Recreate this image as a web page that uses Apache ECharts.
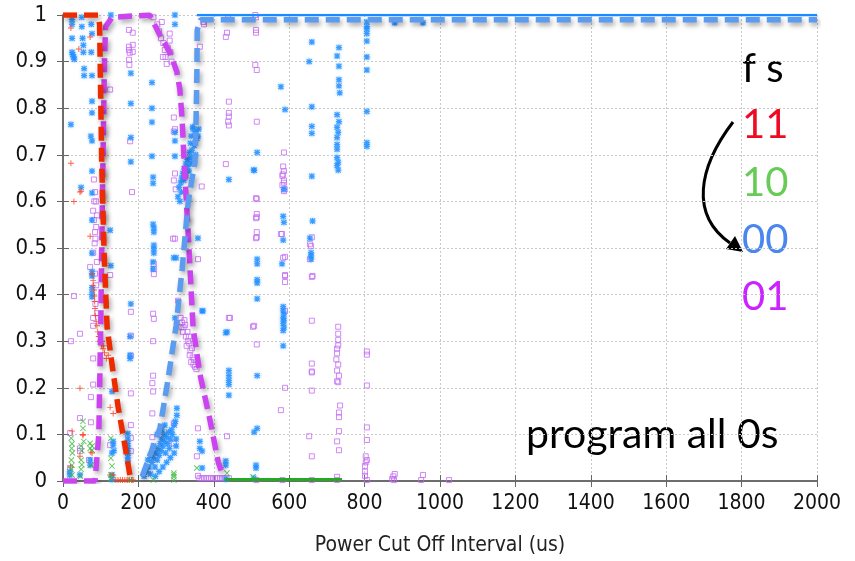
<!DOCTYPE html>
<html>
<head>
<meta charset="utf-8">
<title>Power Cut Off Interval</title>
<script src="https://cdn.jsdelivr.net/npm/echarts@6/dist/echarts.min.js"></script>
<style>
  html, body { margin: 0; padding: 0; background: #fff; }
  #chart { width: 855px; height: 561px; }
</style>
</head>
<body>
<div id="chart"></div>
<script>
  // tick labels
  const xTicks = [0, 200, 400, 600, 800, 1000, 1200, 1400, 1600, 1800, 2000]
  const yTicks = [0, 0.1, 0.2, 0.3, 0.4, 0.5, 0.6, 0.7, 0.8, 0.9, 1]

  // "00" samples (blue asterisks)
  const blue00 = [
    [24,0.99],[24,0.98],[24,0.95],[24,0.92],[26,0.915],[28,0.91],[30,0.905],
    [50,0.995],[50,0.975],[52,0.95],[54,0.935],[54,0.92],[56,0.885],[56,0.87],
    [75,0.98],[77,0.96],[75,0.92],[77,0.87],[77,0.815],[77,0.79],[74,0.74],[77,0.73],
    [21,0.765],[127,1.0],[180,0.875],[180,0.81],[180,0.737],[180,0.685],
    [236,0.855],[236,0.8],[236,0.77],[236,0.697],
    [297,1.0],[297,0.98],[297,0.748],[297,0.73],[297,0.697],
    [345,0.755],[350,0.745],[340,0.74],[355,0.735],[338,0.725],[348,0.72],[342,0.71],[336,0.705],
    [352,0.7],[340,0.695],[333,0.69],[345,0.685],[338,0.68],[330,0.675],[322,0.67],[318,0.66],
    [326,0.655],[315,0.65],[320,0.645],[312,0.64],[308,0.63],[314,0.62],[305,0.61],[310,0.6],
    [358,0.74],[352,0.75],[344,0.76],[330,0.69],[326,0.68],[334,0.665],[360,0.755],
    [48,0.63],[77,0.665],[77,0.618],[77,0.56],[125,0.538],[77,0.489],[127,0.462],[77,0.449],
    [77,0.44],[77,0.415],[77,0.404],[77,0.395],
    [239,0.652],[239,0.639],[239,0.551],[241,0.543],[241,0.534],[241,0.506],[241,0.498],
    [241,0.489],[239,0.47],[239,0.455],[180,0.38],[300,0.479],[358,0.521],[371,0.365],[297,0.35],
    [178,0.31],[178,0.27],[178,0.263],[130,0.192],
    [172,0.102],[172,0.09],[172,0.08],[172,0.07],[172,0.06],[172,0.05],[172,0.043],
    [133,0.085],[133,0.077],[130,0.06],[135,0.065],[130,0.013],[130,0.003],
    [18,0.02],[18,0.013],[45,0.013],[72,0.045],[72,0.034],
    [215,0.01],[222,0.02],[228,0.03],[232,0.015],[236,0.04],[240,0.05],[244,0.03],[246,0.06],
    [250,0.045],[252,0.07],[255,0.055],[258,0.08],[260,0.065],[262,0.09],[265,0.075],[268,0.1],
    [270,0.085],[272,0.06],[275,0.095],[278,0.08],[280,0.105],[282,0.07],[285,0.09],[288,0.11],
    [290,0.1],[295,0.12],[298,0.128],[300,0.09],[302,0.141],[302,0.156],[300,0.075],[295,0.06],
    [285,0.05],[275,0.04],[265,0.03],[255,0.02],[245,0.01],[240,0.075],[250,0.1],[232,0.055],
    [225,0.045],[262,0.11],[270,0.12],
    [294,0.479],[369,0.365],[435,0.32],[440,0.237],[440,0.226],[440,0.216],[440,0.207],[440,0.184],
    [515,0.476],[515,0.466],[515,0.432],[515,0.425],[515,0.391],[515,0.226],[515,0.113],[507,0.105],
    [512,0.034],[512,0.028],[506,0.006],
    [581,0.466],[584,0.374],[584,0.365],[586,0.358],[584,0.35],[586,0.345],[584,0.338],[586,0.33],
    [584,0.323],[584,0.29],
    [432,0.318],[369,0.064],[432,0.043],[432,0.034],[432,0.004],[369,0.028],[363,0.07],[363,0.085],
    [440,0.647],[507,0.667],[586,0.626],[584,0.568],[586,0.555],[584,0.517],
    [660,0.654],[662,0.558],[655,0.521],[658,0.49],[658,0.483],[658,0.476],[730,0.667],
    [660,0.942],[732,0.93],[727,0.912],[653,0.9],[732,0.89],[732,0.861],[732,0.848],[734,0.833],
    [578,0.846],[589,0.797],[660,0.803],[727,0.786],[732,0.771],[727,0.759],[730,0.748],[727,0.737],
    [660,0.761],[660,0.746],[727,0.722],[727,0.712],[727,0.694],[730,0.684],[727,0.677],
    [515,0.705],[506,0.667],
    [806,0.985],[806,0.975],[806,0.97],[806,0.96],[806,0.944],[806,0.91],[806,0.882],[806,0.793],
    [806,0.726],[806,0.718],[880,0.983],[955,0.983]
  ]

  // "01" samples (purple squares)
  const purple01 = [
    [72,0.459],[29,0.397],[21,0.3],[45,0.316],[80,0.333],[80,0.263],[80,0.207],[74,0.18],
    [45,0.135],[45,0.07],[45,0.064],[74,0.126],[69,0.045],[19,0.103],[19,0.028],
    [82,0.647],[85,0.62],[83,0.6],[80,0.58],[82,0.56],[85,0.534],[84,0.51],[80,0.49],
    [88,0.6],[90,0.57],[88,0.545],[86,0.52],[90,0.47],[85,0.445],[88,0.42],[86,0.38],[90,0.36],[80,0.35],
    [125,0.84],[178,0.729],[183,0.62],
    [175,0.968],[175,0.932],[175,0.925],[177,0.919],[175,0.904],[176,0.893],[185,0.962],[185,0.936],[185,0.921],
    [250,0.98],[255,0.965],[260,0.95],[266,0.94],[270,0.925],[272,0.91],[265,0.91],[275,0.895],
    [283,0.96],[283,0.945],[285,0.92],[278,0.93],[288,0.9],[262,0.985],[240,0.995],
    [294,0.78],[297,0.755],[294,0.75],[297,0.66],[294,0.645],[299,0.626],[297,0.52],[292,0.52],
    [363,0.932],[372,0.985],[374,0.98],[435,0.962],[432,0.953],[440,0.814],[440,0.79],[440,0.782],
    [438,0.771],[440,0.763],[432,0.68],[438,0.993],
    [514,0.771],[512,0.995],[512,0.968],[512,0.962],[510,0.893],[514,0.882],
    [586,0.705],[584,0.675],[586,0.665],[582,0.655],[586,0.645],[582,0.635],[588,0.626],
    [514,0.605],[514,0.573],[514,0.566],[514,0.534],[514,0.523],[578,0.53],
    [125,0.442],[125,0.077],[180,0.363],[180,0.312],[180,0.269],[180,0.188],[180,0.12],[180,0.092],[180,0.064],
    [241,0.466],[241,0.455],[241,0.444],[239,0.359],[241,0.348],[239,0.3],[239,0.226],[237,0.21],
    [239,0.192],[237,0.145],[237,0.094],
    [305,0.387],[294,0.124],[294,0.081],[358,0.476],[358,0.113],[355,0.053],[358,0.011],
    [312,0.35],[316,0.34],[320,0.33],[318,0.32],[324,0.335],[326,0.31],[330,0.32],[332,0.3],
    [328,0.29],[335,0.295],[338,0.28],[336,0.27],[342,0.285],[344,0.265],[340,0.255],[348,0.26],
    [350,0.245],[346,0.25],[354,0.24],[322,0.345],[314,0.33],[334,0.31],
    [443,0.35],[435,0.096],[504,0.331],[514,0.293],[589,0.44],[589,0.427],[589,0.2],[578,0.152],
    [589,0.481],[589,0.365],
    [660,0.438],[660,0.344],[660,0.252],[660,0.235],[660,0.233],[660,0.194],[653,0.096],[660,0.053],[660,0.002],
    [730,0.331],[730,0.316],[730,0.303],[730,0.291],[727,0.284],[727,0.274],[725,0.261],[730,0.25],
    [727,0.237],[732,0.226],[727,0.214],[730,0.212],[735,0.162],[732,0.147],[732,0.137],[732,0.107],
    [727,0.085],[732,0.066],[727,0.009],
    [806,0.278],[806,0.271],[806,0.205],[806,0.115],[806,0.088],[803,0.053],[806,0.045],[803,0.04],
    [801,0.032],[801,0.02],[801,0.011],
    [880,0.015],[876,0.01],[873,0.004],[955,0.013],[950,0.002],[1024,0.002],
    [368,0.632],[512,0.607],[512,0.564],[512,0.521],[581,0.53],[583,0.658],[586,0.64],[586,0.622],
    [584,0.479],[589,0.442],[440,0.35],[507,0.333],[660,0.523],[655,0.508],[655,0.476],[662,0.44],[658,0.504],
    [510,1.0],[513,0.002],[582,0.002],[727,0.002],[806,0.002],[878,0.002],
    [362,0.006],[368,0.006],[374,0.006],[380,0.006],[386,0.006],[392,0.006],[398,0.006],[404,0.006],
    [410,0.006],[416,0.006],[422,0.006],[428,0.006],[434,0.006],[440,0.006]
  ]

  // "11" samples (red pluses)
  const red11 = [
    [21,0.972],[42,0.927],[72,0.953],[21,0.682],[45,0.62],[29,0.6],[72,0.525],[48,0.622],
    [77,0.444],[80,0.43],[80,0.419],[82,0.41],[83,0.397],[84,0.385],[85,0.37],[86,0.355],
    [88,0.342],[90,0.333],[92,0.32],[95,0.31],[98,0.3],[102,0.29],[106,0.284],[110,0.275],
    [115,0.263],[120,0.27],[104,0.3],[108,0.29],
    [45,0.199],[53,0.098],[77,0.06],[24,0.107],[45,0.053],[125,0.158],[133,0.145],[133,0.013],
    [53,0.1],[74,0.062],[125,0.013],[20,0.03],
    [140,0.002],[146,0.002],[152,0.002],[158,0.002],[164,0.002],[170,0.002],[176,0.002],[182,0.002],[186,0.002]
  ]

  // "10" samples (green crosses)
  const green10 = [
    [22,0.092],[24,0.08],[23,0.07],[25,0.06],[22,0.045],[24,0.034],[21,0.025],[24,0.013],
    [53,0.128],[53,0.113],[55,0.085],[48,0.075],[50,0.065],[48,0.045],[50,0.035],[48,0.025],[46,0.01],
    [77,0.075],[77,0.066],[75,0.034],[72,0.081],[72,0.07],
    [127,0.092],[127,0.049],[127,0.013],[127,0.005],[130,0.032],
    [178,0.002],[240,0.002],[294,0.013],[294,0.002],[294,0.017],[294,0.009],[355,0.028],[435,0.017],[504,0.009]
  ]
  const green10Floor = [[430,0.003],[740,0.003]]
  const blue00Top = [[355,1],[2000,1]]

  // hand drawn trend lines
  const trend11 = [[0,1],[93,1],[97,0.98],[103,0.67],[109,0.49],[117,0.33],[130,0.25],[146,0.16],[164,0.077],[178,0.01]]
  const trend01 = [[0,0],[85,0],[95,0.1],[100,0.33],[105,0.64],[110,0.9],[113,0.975],[130,0.995],[230,1],
    [257,0.957],[284,0.919],[302,0.878],[310,0.84],[316,0.776],[321,0.69],[330,0.56],[337,0.455],
    [345,0.33],[363,0.23],[390,0.13],[412,0.04],[425,0.01]]
  const trend00 = [[210,0.01],[231,0.056],[257,0.113],[279,0.22],[300,0.333],[316,0.455],[324,0.526],
    [332,0.598],[342,0.647],[350,0.684],[353,0.776],[355,0.868],[356,0.968],[365,0.99],[2000,0.99]]

  const ASTERISK = 'path://M4,0H6V10H4Z M0,4H10V6H0Z M1.5,0.1L9.9,8.5L8.5,9.9L0.1,1.5Z M8.5,0.1L9.9,1.5L1.5,9.9L0.1,8.5Z'
  const PLUS = 'path://M4.2,0H5.8V10H4.2Z M0,4.2H10V5.8H0Z'
  const CROSS = 'path://M1.2,0.1L9.9,8.8L8.8,9.9L0.1,1.2Z M8.8,0.1L9.9,1.2L1.2,9.9L0.1,8.8Z'

  const AXIS_FONT = '"DejaVu Sans Condensed", "DejaVu Sans", sans-serif'
  const NOTE_FONT = 'Lato, "Open Sans", sans-serif'

  const dashed = (data, color) => ({
    type: 'line',
    data,
    symbol: 'none',
    silent: true,
    z: 5,
    lineStyle: {
      color,
      width: 5.5,
      type: [14, 7],
      shadowBlur: 5,
      shadowColor: 'rgba(0,0,0,0.35)',
      shadowOffsetX: 2,
      shadowOffsetY: 3
    }
  })

  const note = (text, top, color, size) => ({
    type: 'text',
    left: 742,
    top,
    style: { text, fill: color, font: `${size}px ${NOTE_FONT}` }
  })

  const chart = echarts.init(document.getElementById('chart'))
  chart.setOption({
    animation: false,
    backgroundColor: '#fff',
    grid: { left: 63, right: 38, top: 15, bottom: 78 },
    xAxis: [{
      type: 'value',
      min: xTicks[0],
      max: xTicks[xTicks.length - 1],
      interval: xTicks[1] - xTicks[0],
      name: 'Power Cut Off Interval (us)',
      nameLocation: 'middle',
      nameGap: 54,
      nameTextStyle: { fontSize: 21, color: '#222', fontFamily: AXIS_FONT },
      axisLine: { lineStyle: { color: '#666', width: 1.5 } },
      axisTick: { inside: true, length: 6, lineStyle: { color: '#666' } },
      axisLabel: { fontSize: 21, color: '#111', fontFamily: AXIS_FONT, margin: 12, formatter: v => String(v) },
      splitLine: { lineStyle: { color: '#c8c8c8', type: [2, 2] } }
    }, {
      type: 'value',
      position: 'top',
      min: xTicks[0],
      max: xTicks[xTicks.length - 1],
      interval: xTicks[1] - xTicks[0],
      axisLine: { lineStyle: { color: '#666', width: 1.5 } },
      axisTick: { inside: true, length: 6, lineStyle: { color: '#666' } },
      axisLabel: { show: false },
      splitLine: { show: false }
    }],
    yAxis: [{
      type: 'value',
      min: yTicks[0],
      max: yTicks[yTicks.length - 1],
      interval: 0.1,
      axisLine: { show: true, lineStyle: { color: '#666', width: 1.5 } },
      axisTick: { show: true, inside: true, length: 6, lineStyle: { color: '#666' } },
      axisLabel: {
        fontSize: 22, color: '#111', fontFamily: AXIS_FONT, margin: 16,
        formatter: v => (v === 0 || v === 1) ? String(v) : v.toFixed(1)
      },
      splitLine: { lineStyle: { color: '#c8c8c8', type: [2, 2] } }
    }, {
      type: 'value',
      position: 'right',
      min: yTicks[0],
      max: yTicks[yTicks.length - 1],
      interval: 0.1,
      axisLine: { show: true, lineStyle: { color: '#666', width: 1.5 } },
      axisTick: { show: true, inside: true, length: 6, lineStyle: { color: '#666' } },
      axisLabel: { show: false },
      splitLine: { show: false }
    }],
    series: [
      {
        type: 'scatter', data: purple01, symbol: 'rect', symbolSize: 5,
        itemStyle: { color: 'rgba(255,255,255,0)', borderColor: '#c46cf2', borderWidth: 1 }
      },
      {
        type: 'scatter', data: blue00, symbol: ASTERISK, symbolSize: 6,
        itemStyle: { color: '#1a8cff', shadowBlur: 3, shadowColor: 'rgba(90,170,255,0.7)' }
      },
      {
        type: 'scatter', data: red11, symbol: PLUS, symbolSize: 6,
        itemStyle: { color: '#ff3a1a' }
      },
      {
        type: 'scatter', data: green10, symbol: CROSS, symbolSize: 6,
        itemStyle: { color: '#3cb83c' }
      },
      {
        type: 'line', data: green10Floor, symbol: 'none', silent: true,
        lineStyle: { color: '#22aa22', width: 3 }
      },
      {
        type: 'line', data: blue00Top, symbol: 'none', silent: true, z: 4,
        lineStyle: { color: '#1a8cff', width: 2.5 }
      },
      dashed(trend01, '#cc44f0'),
      dashed(trend00, '#5b9cf0'),
      dashed(trend11, '#ee2a00')
    ],
    graphic: [
      note('f s', 49, '#000', 40),
      note('11', 105, '#ee0a22', 40),
      note('10', 163, '#66cc55', 40),
      note('00', 220, '#4a86ee', 40),
      note('01', 277, '#cc22ff', 40),
      {
        type: 'text', left: 526, top: 414,
        style: { text: 'program all 0s', fill: '#000', font: `41px ${NOTE_FONT}` }
      },
      {
        type: 'bezierCurve',
        shape: { x1: 733, y1: 122, cpx1: 698, cpy1: 168, cpx2: 690, cpy2: 215, x2: 730, y2: 243 },
        style: { stroke: '#000', lineWidth: 3, fill: null }
      },
      {
        type: 'polygon',
        shape: { points: [[743, 252], [726, 249], [735, 236]] },
        style: { fill: '#000' }
      }
    ]
  })
</script>
</body>
</html>
